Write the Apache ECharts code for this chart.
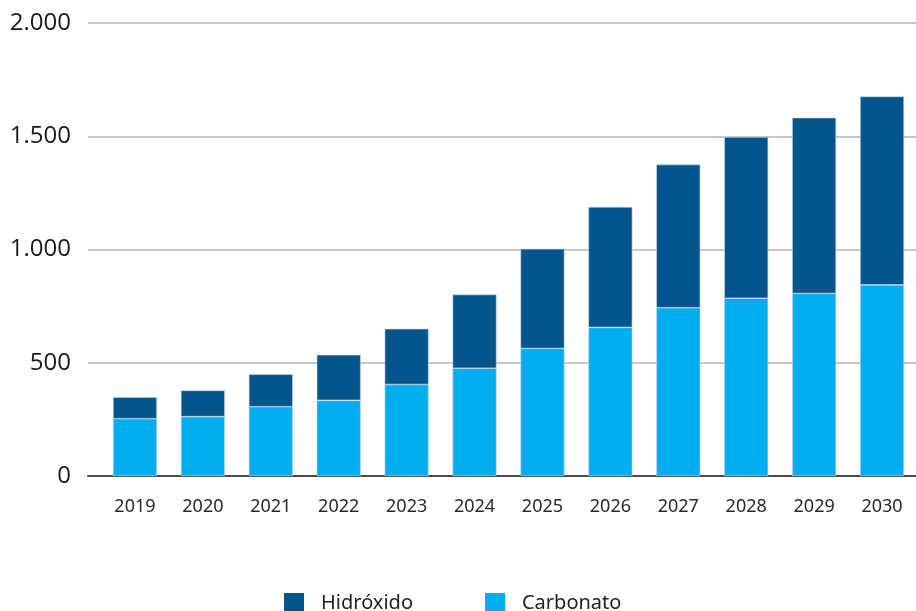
<!DOCTYPE html>
<html>
<head>
<meta charset="utf-8">
<script src="https://cdn.jsdelivr.net/npm/echarts@6/dist/echarts.min.js"></script>
<style>
  html, body { margin: 0; padding: 0; background: #fff; }
  #chart { width: 916px; height: 611px; }
</style>
</head>
<body>
<div id="chart"></div>
<script>
// Years on the category axis
const years = ['2019', '2020', '2021', '2022', '2023', '2024', '2025', '2026', '2027', '2028', '2029', '2030'];
// Stacked segments (bottom: Carbonato, top: Hidróxido)
const carbonato = [253, 262, 306, 334, 404, 476, 563, 656, 743, 785, 806, 844];
const hidroxido = [95, 116, 143, 201, 246, 325, 440, 532, 632, 712, 776, 832];
// Value axis ticks
const yTicks = [0, 500, 1000, 1500, 2000];

const fmt = v => String(v).replace(/\B(?=(\d{3})+(?!\d))/g, '.');

const chart = echarts.init(document.getElementById('chart'), null, { renderer: 'canvas' });

chart.setOption({
  animation: false,
  backgroundColor: '#ffffff',
  textStyle: { fontFamily: 'Open Sans' },
  grid: [
    // grid for the value axis, its gridlines and the baseline
    { left: 88, width: 828, top: 23, height: 453 },
    // grid for the bars
    { left: 101, width: 816, top: 23, height: 453 }
  ],
  legend: {
    data: ['Hidróxido', 'Carbonato'],
    bottom: -7,
    left: 279,
    itemWidth: 20,
    itemHeight: 20,
    itemGap: 72,
    icon: 'rect',
    itemStyle: { borderWidth: 0 },
    textStyle: { fontSize: 20, color: '#222', padding: [0, 0, 0, 12], fontFamily: 'Noto Sans' }
  },
  xAxis: [
    {
      gridIndex: 0, type: 'value', min: 0, max: 1,
      axisLine: { show: true, lineStyle: { color: '#4a4a4a', width: 2 } },
      axisTick: { show: false }, axisLabel: { show: false }, splitLine: { show: false }
    },
    {
      gridIndex: 1, type: 'category', data: years,
      axisLine: { show: false }, axisTick: { show: false },
      axisLabel: { fontSize: 18, color: '#2a2a2a', margin: 22, fontFamily: 'Noto Sans' }
    }
  ],
  yAxis: [
    {
      gridIndex: 0, type: 'value', min: yTicks[0], max: yTicks[yTicks.length - 1], interval: 500,
      axisLine: { show: false }, axisTick: { show: false },
      axisLabel: { fontSize: 24, color: '#1a1a1a', margin: 17, formatter: v => fmt(v) },
      splitLine: { lineStyle: { color: '#c8c8c8', width: 2 } }
    },
    {
      gridIndex: 1, type: 'value', min: yTicks[0], max: yTicks[yTicks.length - 1], show: false
    }
  ],
  series: [
    {
      name: 'Carbonato', type: 'bar', stack: 'total', xAxisIndex: 1, yAxisIndex: 1,
      barWidth: 44, data: carbonato,
      itemStyle: { color: '#00AEEF', borderColor: '#c9d6df', borderWidth: 0.6 }
    },
    {
      name: 'Hidróxido', type: 'bar', stack: 'total', xAxisIndex: 1, yAxisIndex: 1,
      barWidth: 44, data: hidroxido,
      itemStyle: { color: '#03558B', borderColor: '#c9d6df', borderWidth: 0.6 }
    }
  ]
});
</script>
</body>
</html>
